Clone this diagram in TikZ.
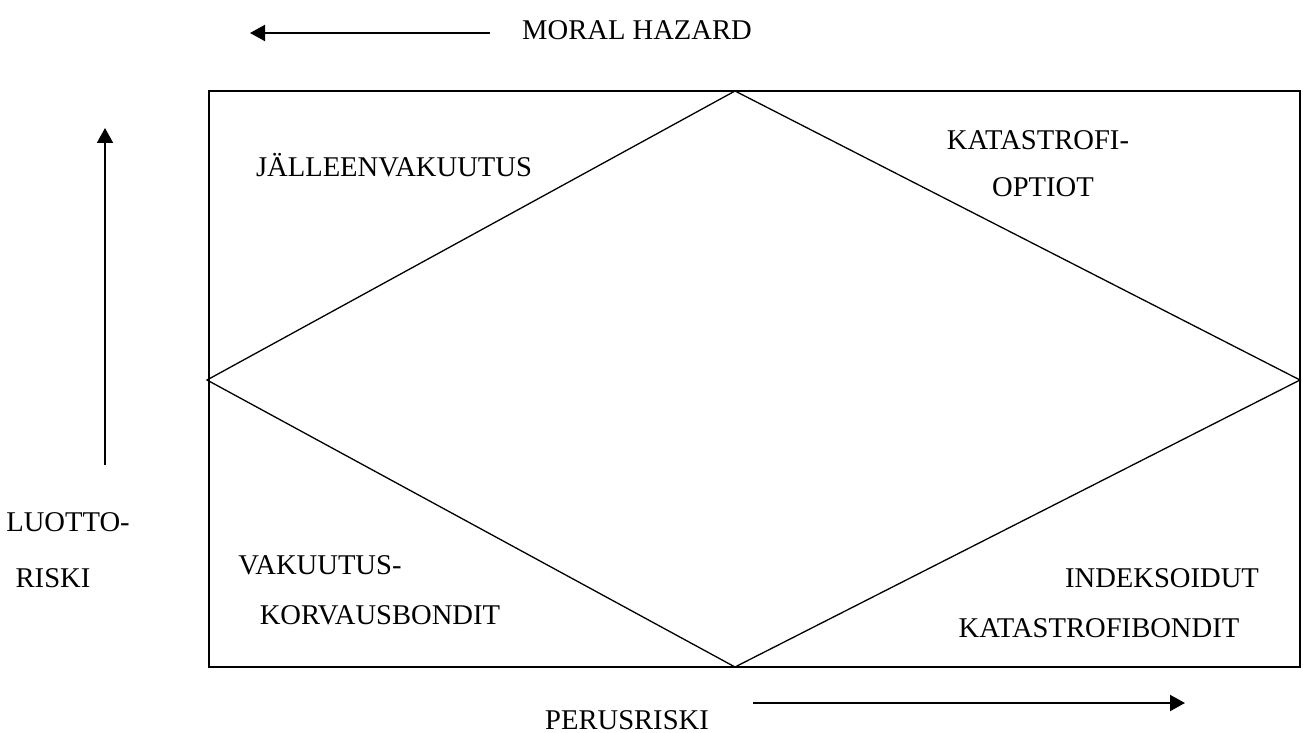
\documentclass[tikz,border=0pt]{standalone}
\usepackage{fontspec}
\setmainfont{Liberation Serif}
\usetikzlibrary{arrows.meta}
\begin{document}
\begin{tikzpicture}[x=0.5pt,y=-0.5pt,
  lbl/.style={font=\fontsize{14.3}{17}\selectfont, inner sep=0pt},
  frame/.style={line width=1pt},
  thin/.style={line width=0.65pt},
  axis/.style={line width=1pt, -{Triangle[length=7.5pt,width=8pt]}}]
\useasboundingbox (0,0) rectangle (1303,733);
% outer box
\coordinate (tl) at (209,91);
\coordinate (br) at (1300,667);
\draw[frame] (tl) rectangle (br);
% diamond
\coordinate (dt) at (735,91);
\coordinate (dr) at (1300,380);
\coordinate (db) at (735,667);
\coordinate (dl) at (207,380);
\draw[thin] (dt) -- (dr) -- (db) -- (dl) -- cycle;
% axes
\coordinate (mhs) at (490,33);
\coordinate (mhe) at (250,33);
\draw[axis] (mhs) -- (mhe);
\coordinate (lrs) at (105,465);
\coordinate (lre) at (105,128);
\draw[axis] (lrs) -- (lre);
\coordinate (prs) at (753,703);
\coordinate (pre) at (1185,703);
\draw[axis] (prs) -- (pre);
% labels
\node[lbl] (mh) at (637,30) {MORAL HAZARD};
\node[lbl] (jv) at (394,165) {JÄLLEENVAKUUTUS};
\node[lbl] (k1) at (1038,140) {KATASTROFI-};
\node[lbl] (k2) at (1043,187) {OPTIOT};
\node[lbl] (l1) at (68,522) {LUOTTO-};
\node[lbl] (l2) at (53,578) {RISKI};
\node[lbl] (v1) at (320,565) {VAKUUTUS-};
\node[lbl] (v2) at (380,615) {KORVAUSBONDIT};
\node[lbl] (i1) at (1162,578) {INDEKSOIDUT};
\node[lbl] (i2) at (1099,628) {KATASTROFIBONDIT};
\node[lbl] (pr) at (627,720) {PERUSRISKI};
\end{tikzpicture}
\end{document}
